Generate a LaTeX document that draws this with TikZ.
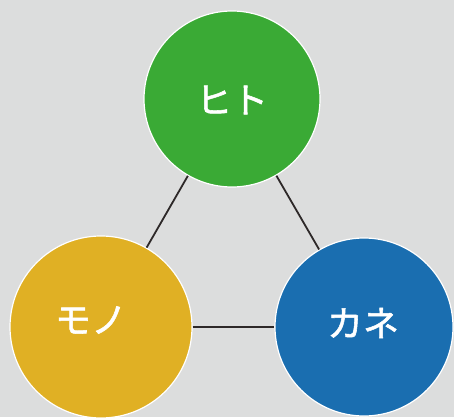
\documentclass[tikz,border=0pt]{standalone}
\usepackage{fontspec}
\newfontfamily\jp{Noto Sans CJK JP}[FakeBold=1.5]
\definecolor{bg}{RGB}{220,221,221}
\definecolor{cgreen}{RGB}{58,170,53}
\definecolor{cyellow}{RGB}{224,176,36}
\definecolor{cblue}{RGB}{26,110,176}
\definecolor{lineC}{RGB}{45,40,40}
\begin{document}
\begin{tikzpicture}[x=1pt,y=-1pt,
  ball/.style={circle,draw=white,line width=1.2pt,minimum size=#1,inner sep=0pt},
  lbl/.style={text=white,font=\jp\fontsize{36}{40}\selectfont},
  link/.style={draw=lineC,line width=1.8pt}]
\fill[bg] (0,0) rectangle (454,417);
\useasboundingbox (0,0) rectangle (454,417);
\node[ball=176pt,fill=cgreen] (hito) at (232,99) {};
\node[ball=182pt,fill=cyellow] (mono) at (101,327) {};
\node[ball=178pt,fill=cblue] (kane) at (364,327) {};
\node[lbl] (hitot) at (232,100) {ヒト};
\node[lbl] (monot) at (91,320) {モノ};
\node[lbl] (kanet) at (363,323) {カネ};
\draw[link] (hito) -- (mono);
\draw[link] (hito) -- (kane);
\draw[link] (mono) -- (kane);
\end{tikzpicture}
\end{document}
